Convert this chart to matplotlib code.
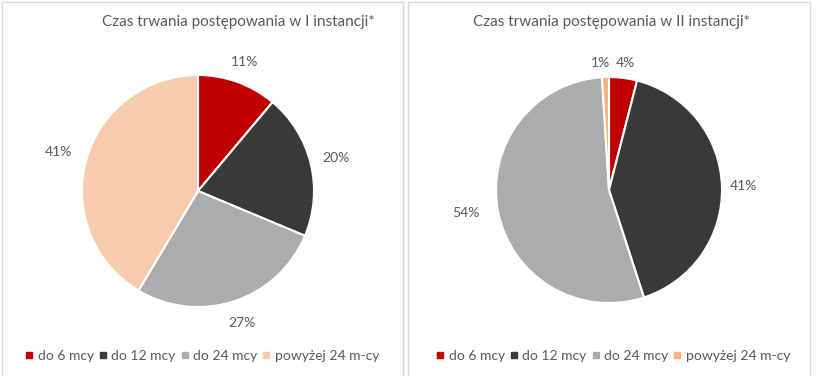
import matplotlib
matplotlib.use("Agg")
import matplotlib.pyplot as plt
import numpy as np
from matplotlib.lines import Line2D
from matplotlib.patches import Rectangle

plt.rcParams['font.family'] = ['Lato', 'DejaVu Sans']

# dane
categories = ['do 6 mcy', 'do 12 mcy', 'do 24 mcy', 'powyżej 24 m-cy']
values_i = [11, 20, 27, 41]
values_ii = [4, 41, 54, 1]
title_i = 'Czas trwania postępowania w I instancji*'
title_ii = 'Czas trwania postępowania w II instancji*'

colors_i = ['#C00000', '#3B3838', '#AEABAB', '#F8CBAD']
colors_ii = ['#C00000', '#3B3838', '#AEABAB', '#F4B183']
text_color = '#595959'

W, H = 816, 376
fig = plt.figure(figsize=(W / 100, H / 100), dpi=100)

# ramki paneli
for x0, x1 in [(2, 403), (408, 810)]:
    fig.patches.append(Rectangle((x0 / W, -0.05), (x1 - x0) / W, (H - 2) / H + 0.05,
                                 transform=fig.transFigure, fill=False,
                                 edgecolor='#D9D9D9', linewidth=1))


def draw_pie(cx, cy, r, values, colors, title, title_x, legend_x, label_dist, overrides=None):
    size = 3 * r
    ax = fig.add_axes([(cx - size / 2) / W, (H - cy - size / 2) / H, size / W, size / H])
    wedges, _ = ax.pie(values, colors=colors, startangle=90, counterclock=False,
                       wedgeprops=dict(edgecolor='white', linewidth=1.5))
    ax.set_xlim(-1.5, 1.5)
    ax.set_ylim(-1.5, 1.5)
    ax.axis('off')
    for i, (w, v) in enumerate(zip(wedges, values)):
        ang = np.radians((w.theta1 + w.theta2) / 2)
        d = label_dist[i]
        if overrides and i in overrides:
            ang = np.radians(overrides[i][0])
            d = overrides[i][1]
        ax.text(d * np.cos(ang), d * np.sin(ang), f'{v}%', ha='center', va='center',
                fontsize=10, color=text_color)
    fig.text(title_x / W, 1 - 22 / H, title, ha='center', va='center',
             fontsize=11, color=text_color)
    handles = [Line2D([], [], marker='s', linestyle='none', markersize=5,
                      markerfacecolor=c, markeredgecolor=c) for c in colors]
    fig.legend(handles, categories, loc='center left', bbox_to_anchor=(legend_x / W, 1 - 356 / H),
               ncol=4, frameon=False, fontsize=10, handlelength=0.5, handletextpad=0.35,
               columnspacing=0.4, borderpad=0, borderaxespad=0, labelcolor=text_color)


draw_pie(198, 191, 116, values_i, colors_i, title_i, 238, 26,
         [1.18, 1.22, 1.2, 1.25])
draw_pie(609, 190, 113, values_ii, colors_ii, title_ii, 611, 437,
         [1.13, 1.19, 1.27, 1.13], overrides={2: (189, 1.28), 3: (94, 1.13)})

fig.savefig('out.png', dpi=100)
